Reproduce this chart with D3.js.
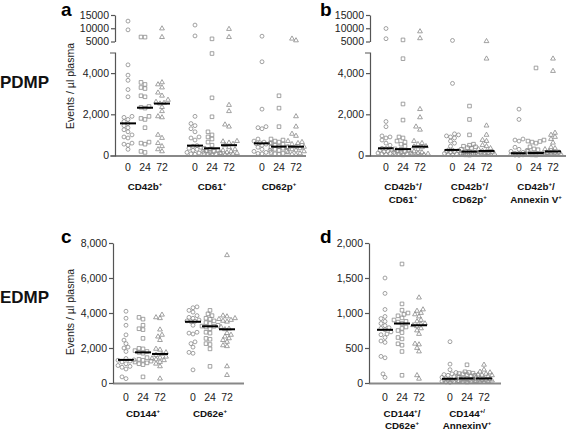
<!DOCTYPE html>
<html><head><meta charset="utf-8">
<script src="https://cdn.jsdelivr.net/npm/d3@7"></script>
<style>body{margin:0;background:#fff}svg{display:block}text{font-family:Arial,"Liberation Sans",sans-serif}</style>
</head><body><svg id="chart" width="567" height="430"></svg>
<script>
// ---------- tick / category labels ----------
const timeLabels = ["0", "24", "72"];
const aGroups = ["CD42b{+}", "CD61{+}", "CD62p{+}"];
const bGroups = [["CD42b{+}/", "CD61{+}"], ["CD42b{+}/", "CD62p{+}"], ["CD42b{+}/", "Annexin V{+}"]];
const cGroups = ["CD144{+}", "CD62e{+}"];
const dGroups = [["CD144{+}/", "CD62e{+}"], ["CD144{+/}", "AnnexinV{+}"]];
const yTicksLowerAB = [0, 2000, 4000];
const yTicksUpperAB = [5000, 10000, 15000];
const yTicksC = [0, 2000, 4000, 6000, 8000];
const yTicksD = [0, 500, 1000, 1500, 2000];

// ---------- panel a (PDMP) ----------
const a_CD42b_0 = [12700, 9400, 4400, 3900, 3650, 3200, 2850, 1900, 1850, 1750, 1650, 1550, 1450, 1350, 1250, 1150, 1000, 900, 850, 600, 550, 500, 300];
const a_CD42b_24 = [6700, 6650, 3550, 3450, 3300, 3250, 2900, 2850, 2380, 2340, 2300, 1900, 1800, 1750, 1350, 650, 600, 550, 200, 150];
const a_CD42b_72 = [9900, 6650, 3550, 3450, 3300, 3050, 2900, 2700, 2600, 2550, 2520, 2350, 2150, 1900, 1850, 1000, 850, 600, 450, 300, 200];
const a_CD61_0 = [11200, 7100, 1900, 1550, 1450, 1300, 1150, 900, 850, 750, 480, 450, 400, 350, 300, 250, 200, 150, 120, 80, 60];
const a_CD61_24 = [6000, 4950, 2800, 1880, 1150, 1000, 900, 800, 650, 500, 350, 300, 250, 220, 200, 150, 120, 100, 80, 60, 40];
const a_CD61_72 = [9700, 6650, 2450, 2150, 1500, 1400, 700, 680, 620, 560, 500, 400, 300, 250, 200, 150, 120, 100, 80, 50, 30];
const a_CD62p_0 = [7000, 4550, 2250, 1400, 1350, 1300, 800, 700, 650, 620, 600, 580, 550, 500, 400, 300, 250, 200, 150, 100, 80];
const a_CD62p_24 = [2900, 2300, 1400, 800, 750, 700, 650, 600, 550, 500, 430, 420, 400, 350, 300, 250, 200, 150, 100, 80, 50];
const a_CD62p_72 = [6050, 5400, 1900, 1400, 1050, 950, 700, 650, 600, 550, 430, 420, 400, 350, 300, 250, 200, 150, 100, 60, 30];
const aMedians = [[1560, 2320, 2520], [480, 350, 500], [590, 430, 430]];

// ---------- panel b (PDMP double positive) ----------
const b_CD61_0 = [9900, 6050, 1650, 1400, 950, 900, 850, 750, 600, 500, 350, 340, 300, 250, 200, 180, 150, 120, 100, 80, 50];
const b_CD61_24 = [5600, 4700, 2500, 1720, 900, 850, 700, 650, 550, 450, 320, 300, 250, 220, 200, 150, 120, 100, 80, 50, 30];
const b_CD61_72 = [8800, 6200, 2250, 1850, 1400, 1250, 700, 600, 550, 450, 430, 400, 300, 200, 150, 100, 80, 60, 40, 30, 20];
const b_CD62p_0 = [5400, 3500, 1050, 1000, 950, 900, 850, 700, 600, 450, 270, 260, 230, 200, 180, 150, 120, 100, 80, 50, 30];
const b_CD62p_24 = [2400, 1750, 1000, 550, 500, 450, 420, 380, 350, 300, 190, 180, 150, 130, 110, 100, 80, 60, 50, 30, 20];
const b_CD62p_72 = [5100, 4700, 1450, 1000, 750, 700, 500, 450, 350, 300, 220, 200, 180, 150, 120, 100, 80, 60, 50, 30, 20];
const b_Anx_0 = [2250, 1750, 800, 750, 700, 400, 300, 250, 200, 150, 110, 100, 90, 80, 70, 60, 50, 40, 30, 20, 10];
const b_Anx_24 = [4250, 750, 700, 680, 650, 600, 420, 320, 280, 200, 120, 110, 100, 90, 80, 70, 60, 50, 40, 30, 20];
const b_Anx_72 = [4700, 4100, 1100, 1000, 900, 800, 620, 400, 350, 300, 200, 180, 150, 120, 100, 80, 60, 50, 40, 30, 20];
const bMedians = [[350, 310, 430], [270, 190, 220], [110, 120, 200]];

// ---------- panel c (EDMP) ----------
const c_CD144_0 = [4100, 3700, 3300, 2750, 2450, 2250, 2050, 2000, 1800, 1400, 1320, 1300, 1250, 1200, 1100, 1000, 950, 900, 800, 350, 250];
const c_CD144_24 = [3750, 3650, 3300, 3100, 3050, 2550, 1980, 1950, 1850, 1800, 1750, 1700, 1450, 1350, 1300, 1250, 1200, 1150, 1100, 1050, 350];
const c_CD144_72 = [3900, 3750, 3700, 3050, 2750, 2650, 2450, 1950, 1900, 1750, 1660, 1600, 1500, 1450, 1400, 1350, 1300, 1200, 1100, 950, 250];
const c_CD62e_0 = [4350, 4300, 4150, 4050, 3850, 3750, 3700, 3600, 3550, 3520, 3500, 3300, 2900, 2850, 2800, 2350, 2250, 2050, 1750, 1700, 750];
const c_CD62e_24 = [4150, 3950, 3850, 3700, 3650, 3550, 3450, 3400, 3300, 3250, 3240, 3200, 3100, 2900, 2850, 2550, 2500, 2250, 2200, 1950, 950];
const c_CD62e_72 = [7300, 3850, 3800, 3700, 3650, 3600, 3550, 3500, 3200, 3100, 3070, 2850, 2750, 2650, 2550, 2450, 2350, 2150, 2100, 950, 450];
const cMedians = [[1320, 1750, 1660], [3500, 3240, 3070]];

// ---------- panel d (EDMP double positive) ----------
const d_CD62e_0 = [1500, 1280, 1050, 950, 920, 880, 850, 820, 790, 780, 760, 730, 700, 690, 650, 600, 580, 380, 360, 130, 80];
const d_CD62e_24 = [1700, 1130, 1040, 1000, 980, 960, 930, 900, 880, 870, 850, 800, 780, 750, 720, 650, 630, 560, 540, 450, 110];
const d_CD62e_72 = [1220, 1050, 1030, 1000, 980, 950, 900, 880, 850, 840, 825, 810, 780, 750, 700, 560, 550, 500, 450, 110, 60];
const d_Anx_0 = [590, 270, 190, 150, 130, 120, 110, 100, 90, 80, 60, 55, 50, 45, 40, 35, 30, 25, 20, 15, 10];
const d_Anx_24 = [260, 160, 150, 140, 135, 130, 120, 110, 100, 80, 65, 60, 55, 50, 45, 40, 35, 30, 25, 20, 15];
const d_Anx_72 = [260, 190, 160, 150, 130, 120, 115, 110, 100, 85, 65, 60, 55, 50, 45, 40, 35, 30, 25, 20, 15];
const dMedians = [[760, 850, 825], [60, 65, 65]];

// ---------- drawing ----------
const svg = d3.select("#chart");
const MARK = "#8a8a8a";
const AXIS = "#555";
const shapes = [
  d3.symbol().type(d3.symbolCircle).size(12),
  d3.symbol().type(d3.symbolSquare).size(13),
  d3.symbol().type(d3.symbolTriangle).size(10)
];

// beeswarm-style horizontal dodge, limited to +/- maxOff around the column centre
function swarm(vals, cx, yFn, d, maxOff) {
  const pts = vals.map(v => ({ v, y: yFn(v) })).sort((a, b) => b.y - a.y);
  const placed = [];
  const step = d * 0.5;
  const nMax = Math.floor(maxOff / step);
  const cands = [0];
  for (let k = 1; k <= nMax; k++) { cands.push(-k * step, k * step); }
  for (const p of pts) {
    let best = null, bestD = -1;
    for (const off of cands) {
      const x = cx + off;
      const md = placed.length ? d3.min(placed, q => Math.hypot(q.x - x, q.y - p.y)) : Infinity;
      if (md >= d) { best = x; break; }
      if (md > bestD) { bestD = md; best = x; }
    }
    p.x = best;
    placed.push(p);
  }
  return placed;
}

function richText(sel, str, x, y, size) {
  const t = sel.append("text").attr("x", x).attr("y", y).attr("text-anchor", "middle")
    .attr("font-size", size).attr("font-weight", "bold").attr("fill", "#111");
  const parts = str.split(/(\{[^}]*\})/).filter(s => s.length);
  let raised = false;
  parts.forEach(p => {
    if (p.startsWith("{")) {
      t.append("tspan").text(p.slice(1, -1)).attr("font-size", size * 0.62).attr("dy", -size * 0.42);
      raised = true;
    } else {
      const ts = t.append("tspan").text(p);
      if (raised) { ts.attr("dy", size * 0.42); raised = false; }
    }
  });
}

function styleAxis(g) {
  g.select(".domain").attr("stroke", AXIS).attr("stroke-width", 1.2);
  g.selectAll(".tick line").attr("stroke", AXIS).attr("stroke-width", 1.2);
  g.selectAll(".tick text").attr("fill", "#222").attr("font-size", 10.5)
    .attr("font-family", 'Arial,"Liberation Sans",sans-serif');
}

function drawPanel(cfg) {
  const g = svg.append("g");
  const gx = d3.scalePoint().domain(d3.range(cfg.groups.length)).range(cfg.gRange);
  const tx = d3.scalePoint().domain(timeLabels).range([-17, 17]);
  g.append("line").attr("x1", cfg.x0).attr("x2", cfg.x1).attr("y1", cfg.yBase + 0.5).attr("y2", cfg.yBase + 0.5)
    .attr("stroke", "#888").attr("stroke-width", 2);
  cfg.drawY(g);
  cfg.series.forEach((grp, gi) => {
    grp.forEach((vals, ti) => {
      const cx = gx(gi) + tx(timeLabels[ti]);
      const pts = swarm(vals, cx, cfg.yFn, 4, 8.5);
      g.append("g").selectAll("path").data(pts).join("path")
        .attr("d", shapes[ti]())
        .attr("transform", p => `translate(${p.x},${p.y})`)
        .attr("fill", "none").attr("stroke", MARK).attr("stroke-width", 0.8);
      const m = cfg.medians[gi][ti];
      g.append("line").attr("x1", cx - 8).attr("x2", cx + 8).attr("y1", cfg.yFn(m)).attr("y2", cfg.yFn(m))
        .attr("stroke", "#000").attr("stroke-width", 2);
      g.append("text").attr("x", cx).attr("y", cfg.tickY).attr("text-anchor", "middle")
        .attr("font-size", 10.5).attr("fill", "#222").text(timeLabels[ti]);
    });
    const lab = cfg.groups[gi];
    const lines = Array.isArray(lab) ? lab : [lab];
    lines.forEach((ln, li) => richText(g, ln, gx(gi), cfg.labY[li], 9.8));
  });
}

const lowerAB = d3.scaleLinear().domain([0, 5000]).range([155.5, 52.5]);
const upperAB = d3.scaleLinear().domain([5000, 15000]).range([41.5, 15]);
const yAB = v => (v > 5000 ? upperAB(v) : lowerAB(v));
function brokenAxis(x0) {
  return g => {
    const lo = g.append("g").attr("transform", `translate(${x0},0)`)
      .call(d3.axisLeft(lowerAB).tickValues(yTicksLowerAB).tickFormat(d3.format(",")).tickSize(4).tickSizeOuter(5).tickPadding(2));
    styleAxis(lo);
    const up = g.append("g").attr("transform", `translate(${x0},0)`)
      .call(d3.axisLeft(upperAB).tickValues(yTicksUpperAB).tickFormat(d3.format("d")).tickSize(4).tickSizeOuter(0).tickPadding(2));
    styleAxis(up);
  };
}

drawPanel({
  groups: aGroups, gRange: [145, 279], x0: 115, x1: 306, yBase: 155.5, yFn: yAB,
  series: [[a_CD42b_0, a_CD42b_24, a_CD42b_72], [a_CD61_0, a_CD61_24, a_CD61_72], [a_CD62p_0, a_CD62p_24, a_CD62p_72]],
  medians: aMedians, tickY: 171, labY: [190, 203], drawY: brokenAxis(115)
});
drawPanel({
  groups: bGroups, gRange: [403, 536], x0: 370, x1: 566, yBase: 155.5, yFn: yAB,
  series: [[b_CD61_0, b_CD61_24, b_CD61_72], [b_CD62p_0, b_CD62p_24, b_CD62p_72], [b_Anx_0, b_Anx_24, b_Anx_72]],
  medians: bMedians, tickY: 171, labY: [190, 203], drawY: brokenAxis(370)
});

const yC = d3.scaleLinear().domain([0, 8000]).range([383, 243]);
drawPanel({
  groups: cGroups, gRange: [143, 210], x0: 113, x1: 244, yBase: 383, yFn: yC,
  series: [[c_CD144_0, c_CD144_24, c_CD144_72], [c_CD62e_0, c_CD62e_24, c_CD62e_72]],
  medians: cMedians, tickY: 400.5, labY: [417, 429],
  drawY: g => styleAxis(g.append("g").attr("transform", "translate(113,0)")
    .call(d3.axisLeft(yC).tickValues(yTicksC).tickFormat(d3.format(",")).tickSize(4).tickSizeOuter(0).tickPadding(2)))
});
const yD = d3.scaleLinear().domain([0, 2000]).range([383, 243]);
drawPanel({
  groups: dGroups, gRange: [402, 467], x0: 369, x1: 501, yBase: 383, yFn: yD,
  series: [[d_CD62e_0, d_CD62e_24, d_CD62e_72], [d_Anx_0, d_Anx_24, d_Anx_72]],
  medians: dMedians, tickY: 400.5, labY: [417, 429],
  drawY: g => styleAxis(g.append("g").attr("transform", "translate(369,0)")
    .call(d3.axisLeft(yD).tickValues(yTicksD).tickFormat(d3.format(",")).tickSize(4).tickSizeOuter(0).tickPadding(2)))
});

const ttl = [["PDMP", 0, 88], ["EDMP", 0, 303]];
ttl.forEach(([t, x, y]) => svg.append("text").attr("x", x).attr("y", y).attr("font-size", 17)
  .attr("font-weight", "bold").attr("fill", "#111").text(t));
const letters = [["a", 61, 16], ["b", 320, 16], ["c", 61, 243], ["d", 320, 243]];
letters.forEach(([t, x, y]) => svg.append("text").attr("x", x).attr("y", y).attr("font-size", 19)
  .attr("font-weight", "bold").attr("fill", "#000").text(t));
[[86], [312]].forEach(([cy]) => svg.append("text")
  .attr("transform", `translate(74,${cy}) rotate(-90)`).attr("text-anchor", "middle")
  .attr("font-size", 10.5).attr("fill", "#222").text("Events / \u00b5l plasma"));
</script></body></html>
